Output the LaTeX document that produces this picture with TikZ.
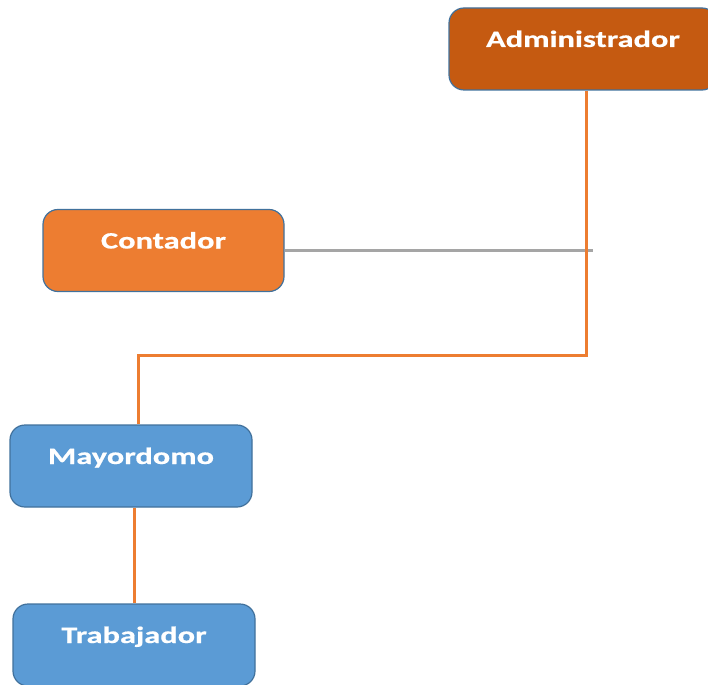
\documentclass[tikz,border=0pt]{standalone}
\usepackage{fontspec}
\newfontfamily\boxfont[FakeStretch=1.38,FakeBold=0.6]{Carlito}
\definecolor{admfill}{HTML}{C55A11}
\definecolor{contfill}{HTML}{ED7D31}
\definecolor{bluefill}{HTML}{5B9BD5}
\definecolor{boxline}{HTML}{41719C}
\definecolor{linkorange}{HTML}{ED7D31}
\definecolor{linkgray}{HTML}{A5A5A5}
\begin{document}
\begin{tikzpicture}
  [x=1pt,y=-1pt,
   every node/.style={draw=boxline,line width=1.2pt,rounded corners=15pt,
     inner sep=0pt,text height=39pt,text depth=43pt,minimum width=242pt,
     text=white,font=\boxfont\bfseries\fontsize{23.5}{26}\selectfont},
   orangelink/.style={draw=linkorange,line width=3pt},
   graylink/.style={draw=linkgray,line width=3pt}]
  \useasboundingbox (0,0) rectangle (708,684);
  \clip (0,0) rectangle (708,684);

  \node[fill=admfill,minimum width=268pt] (n1) at (583,49) {Administrador};
  \node[fill=contfill,minimum width=241pt] (n2) at (163.5,250.5) {Contador};
  \node[fill=bluefill] (n3) at (131,466) {Mayordomo};
  \node[fill=bluefill] (n4) at (134,645) {Trabajador};

  \coordinate (c1) at (586,355);
  \coordinate (c2) at (138,355);
  \coordinate (c3) at (593,249);

  \draw[graylink] (n2.east) -- (n2.east -| c3);
  \draw[orangelink] (n1.south -| c1) -- (c1) -- (c2) -- (c2 |- n3.north);
  \draw[orangelink] (n3.south -| n4.north) -- (n4.north);

\end{tikzpicture}
\end{document}
